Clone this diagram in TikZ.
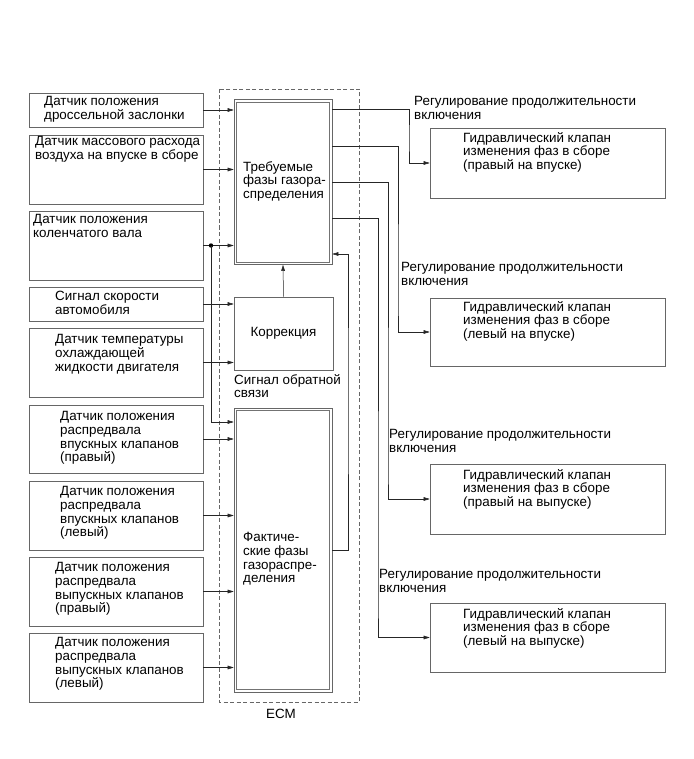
\documentclass[tikz,border=0pt]{standalone}
\usepackage{fontspec}
\setmainfont{Liberation Sans}
\usetikzlibrary{arrows.meta,calc}
\begin{document}
\begin{tikzpicture}[x=1pt,y=-1pt,
  every node/.style={font=\fontsize{13.4}{13.8}\selectfont},
  box/.style={draw=black!60,line width=0.6pt,inner sep=0,minimum width=#1},
  dbox/.style={draw=black!60,line width=0.6pt,inner sep=0,minimum width=98},
  inner/.style={draw=black!55,line width=0.6pt},
  txt/.style={anchor=north west,inner sep=0,align=left},
  line/.style={draw=black!85,line width=0.5pt},
  arr/.style={line,-{Triangle[length=6pt,width=3.6pt]}},
  ecm/.style={draw=black!60,line width=0.5pt,dash pattern=on 4pt off 2.5pt}]
\useasboundingbox (0,0) rectangle (693,759);
\fill[white] (0,0) rectangle (693,759);
% ECM dashed frame
\draw[ecm] (219,89) rectangle (359,702);
\node[inner sep=0] (ecmlab) at (281,714) {ECM};
% left boxes
\node[box=174,minimum height=34] (b1) at (116,110) {};
\node[box=174,minimum height=69] (b2) at (116,169.5) {};
\node[box=174,minimum height=69] (b3) at (116,245.5) {};
\node[box=174,minimum height=34] (b4) at (116,304) {};
\node[box=174,minimum height=69] (b5) at (116,362.5) {};
\node[box=174,minimum height=68] (b6) at (116,439) {};
\node[box=174,minimum height=69] (b7) at (116,515.5) {};
\node[box=174,minimum height=69] (b8) at (116,591.5) {};
\node[box=174,minimum height=69] (b9) at (116,667.5) {};
\node[txt] (t1) at (44,96) {Датчик положения\\дроссельной заслонки};
\node[txt] (t2) at (35,136) {Датчик массового расхода\\воздуха на впуске в сборе};
\node[txt] (t3) at (33,214) {Датчик положения\\коленчатого вала};
\node[txt] (t4) at (55,291) {Сигнал скорости\\автомобиля};
\node[txt] (t5) at (55,334) {Датчик температуры\\охлаждающей\\жидкости двигателя};
\node[txt] (t6) at (60,411) {Датчик положения\\распредвала\\впускных клапанов\\(правый)};
\node[txt] (t7) at (60,486) {Датчик положения\\распредвала\\впускных клапанов\\(левый)};
\node[txt] (t8) at (55,562) {Датчик положения\\распредвала\\выпускных клапанов\\(правый)};
\node[txt] (t9) at (55,637) {Датчик положения\\распредвала\\выпускных клапанов\\(левый)};
% center boxes
\node[dbox,minimum height=165] (top) at (283,182) {};
\draw[inner] ($(top.north west)+(3,3)$) rectangle ($(top.south east)+(-3,-3)$);
\node[box=99,minimum height=73] (corr) at (283.5,333.5) {Коррекция};
\node[dbox,minimum height=284] (bot) at (283,550) {};
\draw[inner] ($(bot.north west)+(3,3)$) rectangle ($(bot.south east)+(-3,-3)$);
\node[txt] (ttop) at (243,161) {Требуемые\\фазы газора-\\спределения};
\node[txt] (tbot) at (243,532) {Фактиче-\\ские фазы\\газораспре-\\деления};
\node[txt] (fb) at (234,374) {Сигнал обратной\\связи};
% right boxes
\node[box=235,minimum height=70] (r1) at (547.5,163) {};
\node[box=235,minimum height=68] (r2) at (547.5,332) {};
\node[box=235,minimum height=70] (r3) at (547.5,499) {};
\node[box=235,minimum height=69] (r4) at (547.5,637.5) {};
\node[txt] (rt1) at (463,132) {Гидравлический клапан\\изменения фаз в сборе\\(правый на впуске)};
\node[txt] (rt2) at (463,301) {Гидравлический клапан\\изменения фаз в сборе\\(левый на впуске)};
\node[txt] (rt3) at (463,469) {Гидравлический клапан\\изменения фаз в сборе\\(правый на выпуске)};
\node[txt] (rt4) at (463,608) {Гидравлический клапан\\изменения фаз в сборе\\(левый на выпуске)};
\node[txt] (l1) at (414,96) {Регулирование продолжительности\\включения};
\node[txt] (l2) at (401,262) {Регулирование продолжительности\\включения};
\node[txt] (l3) at (389,429) {Регулирование продолжительности\\включения};
\node[txt] (l4) at (379,569) {Регулирование продолжительности\\включения};
% inputs
\draw[arr] (b1.east) -- (b1.east -| top.west);
\draw[arr] (b2.east) -- (b2.east -| top.west);
\draw[arr] (b3.east) -- (b3.east -| top.west);
\coordinate (dot) at (b3.east -| 211,0);
\fill[black] (dot) circle (2.2);
\draw[arr] (dot) |- (bot.west |- 0,422);
\draw[arr] (b4.east) -- (b4.east -| corr.west);
\draw[arr] (b5.east) -- (b5.east -| corr.west);
\draw[arr] (b6.east) -- (b6.east -| bot.west);
\draw[arr] (b7.east) -- (b7.east -| bot.west);
\draw[arr] (b8.east) -- (b8.east -| bot.west);
\draw[arr] (b9.east) -- (b9.east -| bot.west);
% internal
\draw[arr] (corr.north) -- (top.south);
\coordinate (fbx) at (348,0);
\draw[arr] (bot.east) -| (fbx |- 0,400) |- (top.east |- 0,254);
% outputs
\draw[arr] (top.east |- 0,109) -| (409,140) |- (r1.west);
\draw[arr] (top.east |- 0,146) -| (398,300) |- (r2.west);
\draw[arr] (top.east |- 0,182) -| (388,470) |- (r3.west);
\draw[arr] (top.east |- 0,218) -| (378,600) |- (r4.west);
\end{tikzpicture}
\end{document}
